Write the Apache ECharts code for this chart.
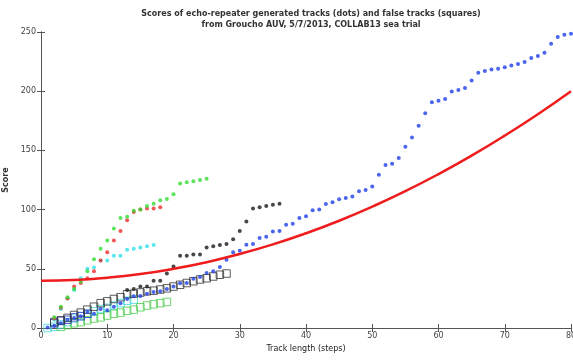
<!DOCTYPE html>
<html>
<head>
<meta charset="utf-8">
<script src="https://cdn.jsdelivr.net/npm/echarts@6/dist/echarts.min.js"></script>
<style>
  html, body { margin: 0; padding: 0; background: #fff; }
  #chart { width: 573px; height: 360px; }
</style>
</head>
<body>
<div id="chart"></div>
<script>
// tick labels
const xTicks = [0, 10, 20, 30, 40, 50, 60, 70, 80]
const yTicks = [0, 50, 100, 150, 200, 250]

// threshold curve (red line)
const threshX = [0, 5, 10, 15, 20, 25, 30, 35, 40, 45, 50, 55, 60, 65, 70, 75, 80]
const threshY = [40, 40.6, 42.5, 45.6, 50, 55.6, 62.5, 70.6, 80, 90.6, 102.5, 115.6, 130, 145.6, 162.5, 180.6, 200]

// dots: echo-repeater tracks, first step + scores
const blueDotStart = 1
const blueDots = [0.5, 2, 4, 7, 8.5, 10, 13.5, 12, 16, 15, 18, 21, 24.5, 26.8, 27, 29, 30.5, 31, 33, 35,
  37.8, 38, 41.5, 43, 46.5, 48, 51.5, 57.7, 64, 65.3, 70.3, 71, 76, 77, 81.6, 82, 87.3, 88, 92.9, 94.3,
  99.5, 100, 104.7, 106.3, 108.7, 109.8, 111, 115.6, 116.6, 119.6, 129.5, 137.6, 138.7, 143.5, 153, 161, 170.8, 181.4, 190.7, 192,
  193.5, 199.7, 201, 202.8, 209, 215.5, 217, 218.3, 219, 220.3, 221.7, 223, 224.6, 228, 229.7, 232.5, 240, 245.8, 247.7, 248.5]

const greenDotStart = 2
const greenDots = [9, 18, 26, 33, 39, 48, 58, 67, 74, 84, 93, 94, 99, 100, 103, 105, 108, 109, 113, 122, 123, 124, 125, 126]

const redDotStart = 2
const redDots = [8, 17, 25, 35, 38, 42, 48, 57, 64, 74, 82, 91, 98, 100, 101, 101, 102]

const cyanDotStart = 2
const cyanDots = [7, 16, 25, 32, 42, 50, 51, 57, 57, 61, 61, 66, 67, 68, 69, 70]

const blackDotStart = 13
const blackDots = [32, 33, 35, 35, 40, 40, 46, 52, 61, 61, 62, 62, 68, 69, 70, 71, 75, 82, 90, 101, 102, 103, 104, 105]

// squares: false tracks
const blackSqStart = 2
const blackSquares = [5, 6.5, 8.5, 11, 13, 15.5, 18, 21, 22.5, 24.5, 26, 28.5, 29, 30, 31, 31.5, 32.5, 33.5, 35, 36.5,
  38, 39.5, 41, 42, 43.5, 45, 46]

const greenSqStart = 3
const greenSquares = [1, 2.5, 4, 5, 6.5, 8, 9, 10.5, 12, 13, 14.5, 15.5, 17.5, 19, 20, 21, 22]

const cyanSqStart = 1
const cyanSquares = [0, 1, 3, 5, 8, 10, 12, 14, 16, 17, 19, 21, 23, 24]

const blueSqStart = 2
const blueSquares = [4, 6, 7, 9, 10, 12]

const toPts = (start, vals) => vals.map((v, i) => [start + i, v])

function dots(name, start, vals, color) {
  return {
    name,
    type: 'scatter',
    data: toPts(start, vals),
    symbol: 'circle',
    symbolSize: 4,
    itemStyle: { color },
    z: 3
  }
}

function squares(name, start, vals, color) {
  return {
    name,
    type: 'scatter',
    data: toPts(start, vals),
    symbol: 'rect',
    symbolSize: 7.5,
    itemStyle: { color: 'transparent', borderColor: color, borderWidth: 1 },
    z: 2
  }
}

const chart = echarts.init(document.getElementById('chart'))
const axisColor = '#555'
const font = 'DejaVu Sans'

const option = {
  animation: false,
  title: {
    text: 'Scores of echo-repeater generated tracks (dots) and false tracks (squares)\nfrom Groucho AUV, 5/7/2013, COLLAB13 sea trial',
    left: 306,
    top: 3,
    textAlign: 'center',
    textStyle: { fontFamily: font, fontSize: 8, fontWeight: 'bold', color: '#333', lineHeight: 11 }
  },
  grid: { left: 41, right: 2, top: 32, bottom: 32, containLabel: false, outerBoundsMode: 'none' },
  xAxis: [{
    type: 'value',
    min: xTicks[0],
    max: xTicks[xTicks.length - 1],
    interval: 10,
    name: 'Track length (steps)',
    nameLocation: 'middle',
    nameGap: 16,
    nameTextStyle: { fontFamily: font, fontSize: 8, color: '#222' },
    axisLine: { lineStyle: { color: axisColor } },
    axisTick: { inside: true, length: 4, lineStyle: { color: axisColor } },
    axisLabel: { fontFamily: font, fontSize: 8, color: '#444', margin: 4 },
    splitLine: { show: false }
  }, {
    type: 'value',
    position: 'top',
    min: xTicks[0],
    max: xTicks[xTicks.length - 1],
    interval: 10,
    axisLine: { lineStyle: { color: axisColor } },
    axisTick: { inside: true, length: 4, lineStyle: { color: axisColor } },
    axisLabel: { show: false },
    splitLine: { show: false }
  }],
  yAxis: [{
    type: 'value',
    min: yTicks[0],
    max: yTicks[yTicks.length - 1],
    interval: 50,
    name: 'Score',
    nameLocation: 'middle',
    nameGap: 26,
    nameRotate: 90,
    nameTextStyle: { fontFamily: font, fontSize: 8, fontWeight: 'bold', color: '#333' },
    axisLine: { lineStyle: { color: axisColor } },
    axisTick: { inside: true, length: 4, lineStyle: { color: axisColor } },
    axisLabel: { fontFamily: font, fontSize: 8, color: '#444', margin: 5 },
    splitLine: { show: false }
  }, {
    type: 'value',
    position: 'right',
    min: yTicks[0],
    max: yTicks[yTicks.length - 1],
    interval: 50,
    axisLine: { lineStyle: { color: axisColor } },
    axisTick: { inside: true, length: 4, lineStyle: { color: axisColor } },
    axisLabel: { show: false },
    splitLine: { show: false }
  }],
  series: [
    squares('cyan squares', cyanSqStart, cyanSquares, '#40d8e0'),
    squares('green squares', greenSqStart, greenSquares, '#4ccc4c'),
    squares('blue squares', blueSqStart, blueSquares, '#2a3ad0'),
    squares('black squares', blackSqStart, blackSquares, '#333'),
    dots('cyan dots', cyanDotStart, cyanDots, '#30e0e8'),
    dots('red dots', redDotStart, redDots, '#ee2a2a'),
    dots('green dots', greenDotStart, greenDots, '#33dd33'),
    dots('black dots', blackDotStart, blackDots, '#1a1a1a'),
    dots('blue dots', blueDotStart, blueDots, '#1f3fe8'),
    {
      name: 'threshold',
      type: 'line',
      data: threshX.map((x, i) => [x, threshY[i]]),
      smooth: true,
      showSymbol: false,
      lineStyle: { color: '#ee1c1c', width: 2.5 },
      z: 4
    }
  ]
}

chart.setOption(option)
</script>
</body>
</html>
